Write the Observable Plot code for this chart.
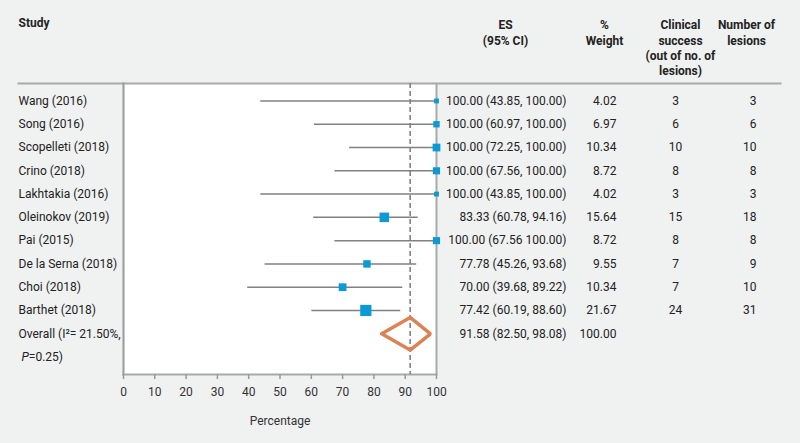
<!DOCTYPE html>
<html><head><meta charset="utf-8">
<script src="https://cdn.jsdelivr.net/npm/d3@7"></script>
<script src="https://cdn.jsdelivr.net/npm/@observablehq/plot@0.6"></script>
<style>
html,body{margin:0;padding:0;background:#f0f1f1;}
</style></head><body><div id="chart"></div>
<script>
// ---- data ----
const studies = ["Wang (2016)", "Song (2016)", "Scopelleti (2018)", "Crino (2018)", "Lakhtakia (2016)",
  "Oleinokov (2019)", "Pai (2015)", "De la Serna (2018)", "Choi (2018)", "Barthet (2018)"];
const es =     [100.00, 100.00, 100.00, 100.00, 100.00, 83.33, 100.00, 77.78, 70.00, 77.42];
const lower =  [43.85, 60.97, 72.25, 67.56, 43.85, 60.78, 67.56, 45.26, 39.68, 60.19];
const upper =  [100.00, 100.00, 100.00, 100.00, 100.00, 94.16, 100.00, 93.68, 89.22, 88.60];
const weight = [4.02, 6.97, 10.34, 8.72, 4.02, 15.64, 8.72, 9.55, 10.34, 21.67];
const success = [3, 6, 10, 8, 3, 15, 8, 7, 7, 24];
const lesions = [3, 6, 10, 8, 3, 18, 8, 9, 10, 31];
const esText = ["100.00 (43.85, 100.00)", "100.00 (60.97, 100.00)", "100.00 (72.25, 100.00)",
  "100.00 (67.56, 100.00)", "100.00 (43.85, 100.00)", "83.33 (60.78, 94.16)", "100.00 (67.56 100.00)",
  "77.78 (45.26, 93.68)", "70.00 (39.68, 89.22)", "77.42 (60.19, 88.60)"];
const overallES = 91.58, overallLower = 82.50, overallUpper = 98.08, overallWeight = "100.00";
const overallText = "91.58 (82.50, 98.08)";
const overallLines = ["Overall (I²= 21.50%,", "P=0.25)"];
const headers = {study: "Study", es: "ES\n(95% CI)", weight: "%\nWeight",
  success: "Clinical\nsuccess\n(out of no. of\nlesions)", lesions: "Number of\nlesions"};
const xTicks = [0, 10, 20, 30, 40, 50, 60, 70, 80, 90, 100];

// ---- derived tables ----
const rows = studies.map((s, i) => ({i, study: s, es: es[i], lo: lower[i], hi: upper[i], w: weight[i],
  esText: esText[i], wText: weight[i].toFixed(2), success: success[i], lesions: lesions[i]}));
const oRow = studies.length;
const overallRowObj = {i: oRow, esText: overallText, wText: overallWeight};
const overallLabelRows = overallLines.map((t, k) => ({t, i: oRow + k}));
const dh = 0.7; // diamond half height in row units
const diamond = [
  {x: overallLower, y: oRow}, {x: overallES, y: oRow - dh}, {x: overallUpper, y: oRow},
  {x: overallES, y: oRow + dh}, {x: overallLower, y: oRow}];

const font = "Roboto, 'Noto Sans', sans-serif";
const txt = "#222";
const hdr = {frameAnchor: "top-right", dy: -65, lineAnchor: "top", textAnchor: "middle",
  fontWeight: "bold", lineHeight: 1.27, fill: txt, fontSize: 12};

const chart = Plot.plot({
  width: 800, height: 443,
  marginLeft: 123, marginRight: 364, marginTop: 83, marginBottom: 69,
  style: {background: "#f0f1f1", fontFamily: font, fontSize: "12px", color: txt, overflow: "visible"},
  x: {domain: [0, 100], axis: null},
  y: {domain: [-0.75, 11.75], reverse: true, axis: null},
  r: {type: "sqrt", domain: [0, 25], range: [0, 6.8]},
  marks: [
    Plot.frame({fill: "white", stroke: null}),
    Plot.frame({anchor: "top", stroke: "#a9a9a9", strokeWidth: 2, insetLeft: -105, insetRight: -344}),
    Plot.frame({anchor: "left", stroke: "#9a9a9a", strokeWidth: 2}),
    Plot.frame({anchor: "bottom", stroke: "#a9a9a9", strokeWidth: 2}),
    Plot.ruleX([100], {stroke: "#a9a9a9", strokeWidth: 2}),
    Plot.ruleX([overallES], {stroke: "#7a7a7a", strokeWidth: 1.5, strokeDasharray: "5,3"}),
    Plot.ruleY(rows, {y: "i", x1: "lo", x2: "hi", stroke: "#808080", strokeWidth: 1.5}),
    Plot.dot(rows, {x: "es", y: "i", r: "w", symbol: "square", fill: "#0a9ad6", stroke: null}),
    Plot.line(diamond, {x: "x", y: "y", stroke: "#dc8356", strokeWidth: 3.5, strokeLinejoin: "miter"}),
    Plot.axisX({ticks: xTicks, tickSize: 5, tickPadding: 8, stroke: "#999", strokeWidth: 1.5, fill: "#333",
      fontSize: 12, label: "Percentage", labelAnchor: "center", labelArrow: "none", labelOffset: 50}),
    // study labels
    Plot.text(rows, {frameAnchor: "left", y: "i", text: "study", textAnchor: "start", dx: -105, fill: txt}),
    Plot.text(overallLabelRows, {frameAnchor: "left", y: "i", text: "t", textAnchor: "start", dx: -105, fill: txt}),
    // columns
    Plot.text([...rows, overallRowObj], {frameAnchor: "right", y: "i", text: "esText", textAnchor: "end", dx: 130, fill: txt}),
    Plot.text([...rows, overallRowObj], {frameAnchor: "right", y: "i", text: "wText", textAnchor: "end", dx: 180, fill: txt}),
    Plot.text(rows, {frameAnchor: "right", y: "i", text: "success", textAnchor: "middle", dx: 239, fill: txt}),
    Plot.text(rows, {frameAnchor: "right", y: "i", text: "lesions", textAnchor: "end", dx: 320, fill: txt}),
    // headers
    Plot.text([headers.study], {frameAnchor: "top-left", dx: -105, dy: -65, lineAnchor: "top", textAnchor: "start",
      fontWeight: "bold", fill: txt, fontSize: 12}),
    Plot.text([headers.es], {...hdr, dx: 69}),
    Plot.text([headers.weight], {...hdr, dx: 168}),
    Plot.text([headers.success], {...hdr, dx: 244}),
    Plot.text([headers.lesions], {...hdr, dx: 310})
  ]
});
document.getElementById("chart").appendChild(chart);
// italic P in the overall label
chart.querySelectorAll("text").forEach(t => {
  if (t.textContent === overallLines[1]) {
    t.innerHTML = '<tspan dx="3" font-style="italic">P</tspan>=0.25)';
  }
});
</script></body></html>
